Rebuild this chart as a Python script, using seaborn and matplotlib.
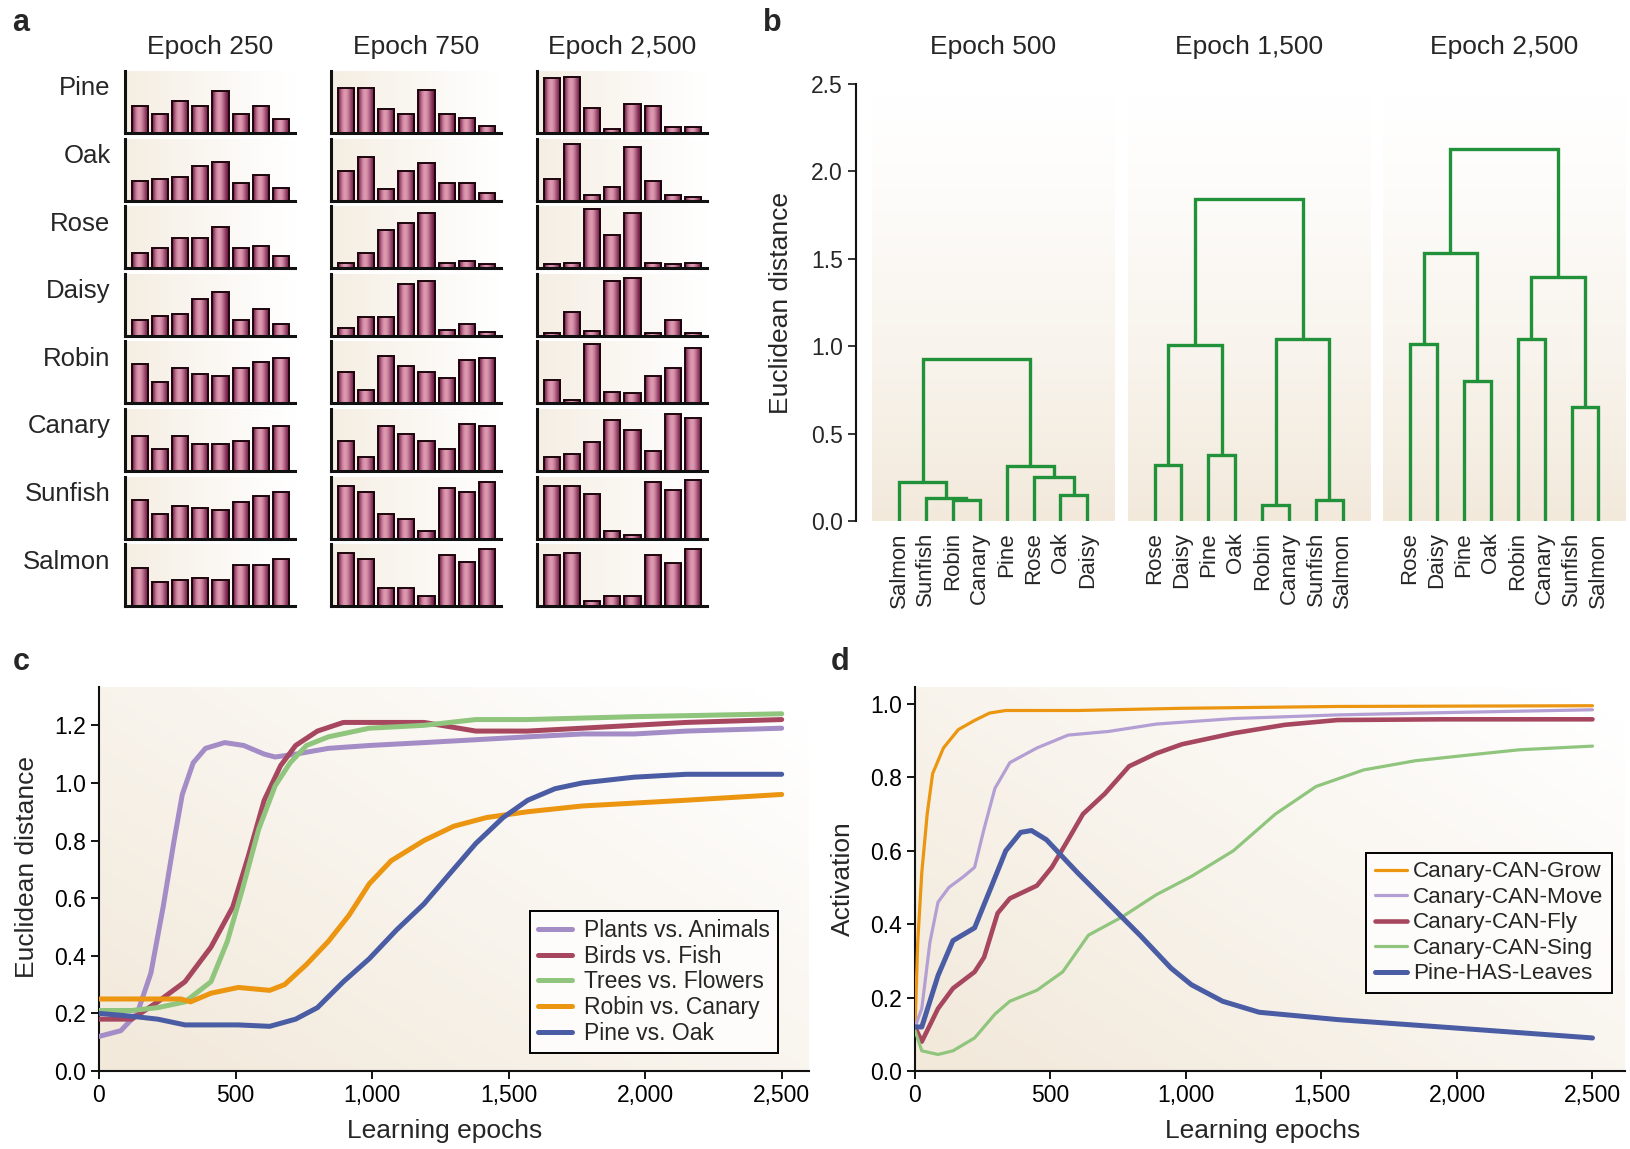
import matplotlib
matplotlib.use("Agg")
import matplotlib.pyplot as plt
import numpy as np
import seaborn as sns
from matplotlib.ticker import FuncFormatter

W, H = 1631, 1149

# ---- panel a: hidden-unit activation patterns ----
ITEMS = ["Pine", "Oak", "Rose", "Daisy", "Robin", "Canary", "Sunfish", "Salmon"]
BAR_TITLES = ["Epoch 250", "Epoch 750", "Epoch 2,500"]
UNITS = list(range(8))
ACT_250 = {
    "Pine": [0.44, 0.31, 0.51, 0.44, 0.67, 0.31, 0.44, 0.22],
    "Oak": [0.32, 0.35, 0.38, 0.55, 0.63, 0.29, 0.41, 0.21],
    "Rose": [0.25, 0.32, 0.48, 0.48, 0.67, 0.32, 0.35, 0.19],
    "Daisy": [0.25, 0.32, 0.35, 0.60, 0.70, 0.25, 0.44, 0.19],
    "Robin": [0.64, 0.35, 0.57, 0.48, 0.44, 0.57, 0.67, 0.73],
    "Canary": [0.56, 0.36, 0.56, 0.43, 0.43, 0.49, 0.69, 0.72],
    "Sunfish": [0.62, 0.39, 0.52, 0.49, 0.46, 0.59, 0.69, 0.75],
    "Salmon": [0.62, 0.39, 0.43, 0.46, 0.43, 0.66, 0.66, 0.76],
}
ACT_750 = {
    "Pine": [0.72, 0.72, 0.38, 0.31, 0.70, 0.31, 0.25, 0.12],
    "Oak": [0.48, 0.71, 0.19, 0.48, 0.61, 0.29, 0.29, 0.12],
    "Rose": [0.09, 0.25, 0.61, 0.73, 0.89, 0.09, 0.12, 0.06],
    "Daisy": [0.12, 0.31, 0.31, 0.83, 0.89, 0.09, 0.19, 0.06],
    "Robin": [0.51, 0.22, 0.76, 0.60, 0.51, 0.41, 0.70, 0.73],
    "Canary": [0.49, 0.23, 0.72, 0.59, 0.49, 0.36, 0.76, 0.72],
    "Sunfish": [0.85, 0.75, 0.39, 0.32, 0.13, 0.82, 0.75, 0.92],
    "Salmon": [0.86, 0.76, 0.29, 0.29, 0.16, 0.82, 0.72, 0.92],
}
ACT_2500 = {
    "Pine": [0.88, 0.91, 0.41, 0.06, 0.47, 0.44, 0.09, 0.09],
    "Oak": [0.35, 0.92, 0.09, 0.22, 0.86, 0.32, 0.09, 0.06],
    "Rose": [0.06, 0.09, 0.95, 0.54, 0.89, 0.09, 0.06, 0.09],
    "Daisy": [0.05, 0.39, 0.08, 0.89, 0.93, 0.05, 0.25, 0.05],
    "Robin": [0.38, 0.05, 0.96, 0.19, 0.16, 0.44, 0.57, 0.89],
    "Canary": [0.23, 0.27, 0.46, 0.82, 0.66, 0.33, 0.92, 0.85],
    "Sunfish": [0.85, 0.85, 0.72, 0.13, 0.06, 0.92, 0.79, 0.95],
    "Salmon": [0.82, 0.86, 0.09, 0.16, 0.16, 0.82, 0.69, 0.92],
}

# ---- panel b: dendrograms (merges: child a, child b, height; new node = 8 + index) ----
TREE_TITLES = ["Epoch 500", "Epoch 1,500", "Epoch 2,500"]
LEAVES_500 = ["Salmon", "Sunfish", "Robin", "Canary", "Pine", "Rose", "Oak", "Daisy"]
MERGES_500 = [(2, 3, 0.12), (1, 8, 0.13), (0, 9, 0.225), (6, 7, 0.15),
              (5, 11, 0.25), (4, 12, 0.315), (10, 13, 0.925)]
LEAVES_1500 = ["Rose", "Daisy", "Pine", "Oak", "Robin", "Canary", "Sunfish", "Salmon"]
MERGES_1500 = [(0, 1, 0.32), (2, 3, 0.375), (8, 9, 1.005), (4, 5, 0.09),
               (6, 7, 0.12), (11, 12, 1.04), (10, 13, 1.84)]
LEAVES_2500 = ["Rose", "Daisy", "Pine", "Oak", "Robin", "Canary", "Sunfish", "Salmon"]
MERGES_2500 = [(0, 1, 1.015), (2, 3, 0.80), (8, 9, 1.535), (4, 5, 1.04),
               (6, 7, 0.65), (11, 12, 1.395), (10, 13, 2.13)]

# ---- panel c: distances between representations ----
PLANTS_ANIMALS_X = [0, 80, 140, 190, 235, 275, 305, 345, 390, 460, 530, 605, 645, 720,
                    840, 990, 1190, 1380, 1570, 1770, 1960, 2150, 2500]
PLANTS_ANIMALS_Y = [0.12, 0.14, 0.20, 0.34, 0.57, 0.80, 0.96, 1.07, 1.12, 1.14, 1.13, 1.10,
                    1.09, 1.10, 1.12, 1.13, 1.14, 1.15, 1.16, 1.17, 1.17, 1.18, 1.19]
BIRDS_FISH_X = [0, 120, 215, 315, 410, 490, 545, 605, 665, 720, 800, 895, 1070, 1190,
                1380, 1570, 1770, 1960, 2150, 2500]
BIRDS_FISH_Y = [0.18, 0.18, 0.24, 0.31, 0.43, 0.57, 0.74, 0.94, 1.06, 1.13, 1.18, 1.21,
                1.21, 1.21, 1.18, 1.18, 1.19, 1.20, 1.21, 1.22]
TREES_FLOWERS_X = [0, 120, 215, 315, 410, 470, 525, 585, 645, 700, 760, 840, 990, 1190,
                   1380, 1570, 1960, 2500]
TREES_FLOWERS_Y = [0.21, 0.21, 0.22, 0.24, 0.31, 0.45, 0.63, 0.84, 0.99, 1.07, 1.13, 1.16,
                   1.19, 1.20, 1.22, 1.22, 1.23, 1.24]
ROBIN_CANARY_X = [0, 300, 335, 410, 510, 625, 680, 760, 840, 915, 990, 1070, 1190, 1300,
                  1420, 1570, 1770, 1960, 2150, 2500]
ROBIN_CANARY_Y = [0.25, 0.25, 0.24, 0.27, 0.29, 0.28, 0.30, 0.37, 0.45, 0.54, 0.65, 0.73,
                  0.80, 0.85, 0.88, 0.90, 0.92, 0.93, 0.94, 0.96]
PINE_OAK_X = [0, 120, 215, 315, 510, 625, 720, 800, 895, 990, 1090, 1190, 1280, 1380,
              1480, 1570, 1670, 1770, 1960, 2150, 2500]
PINE_OAK_Y = [0.20, 0.19, 0.18, 0.16, 0.16, 0.155, 0.18, 0.22, 0.31, 0.39, 0.49, 0.58,
              0.68, 0.79, 0.88, 0.94, 0.98, 1.00, 1.02, 1.03, 1.03]

# ---- panel d: output activations ----
GROW_X = [0, 10, 25, 45, 65, 105, 160, 220, 275, 335, 600, 985, 1560, 2500]
GROW_Y = [0.12, 0.35, 0.54, 0.70, 0.81, 0.88, 0.93, 0.955, 0.975, 0.982, 0.982, 0.988,
          0.993, 0.995]
MOVE_X = [0, 25, 55, 85, 125, 180, 220, 255, 295, 350, 450, 565, 715, 890, 1175, 1560,
          1940, 2500]
MOVE_Y = [0.12, 0.17, 0.35, 0.46, 0.50, 0.53, 0.555, 0.66, 0.77, 0.84, 0.88, 0.915, 0.925,
          0.945, 0.96, 0.97, 0.976, 0.984]
FLY_X = [0, 25, 85, 140, 220, 255, 305, 350, 450, 505, 565, 620, 700, 790, 890, 985, 1175,
         1365, 1560, 1940, 2500]
FLY_Y = [0.12, 0.08, 0.17, 0.225, 0.27, 0.31, 0.43, 0.47, 0.505, 0.555, 0.63, 0.70, 0.755,
         0.83, 0.865, 0.89, 0.92, 0.943, 0.956, 0.958, 0.958]
SING_X = [0, 25, 85, 140, 220, 295, 350, 450, 545, 640, 765, 890, 1020, 1175, 1330, 1480,
          1655, 1845, 2035, 2230, 2500]
SING_Y = [0.11, 0.055, 0.045, 0.055, 0.09, 0.155, 0.19, 0.22, 0.27, 0.37, 0.42, 0.48, 0.53,
          0.60, 0.70, 0.775, 0.82, 0.845, 0.86, 0.875, 0.885]
LEAVES_X = [0, 25, 85, 140, 220, 275, 335, 390, 430, 485, 600, 715, 830, 945, 1020, 1135,
            1270, 1560, 1940, 2500]
LEAVES_Y = [0.12, 0.12, 0.26, 0.355, 0.39, 0.49, 0.60, 0.65, 0.655, 0.63, 0.54, 0.455,
            0.37, 0.28, 0.235, 0.19, 0.16, 0.14, 0.12, 0.09]

PURPLE, MAROON, GREEN, ORANGE, BLUE = "#a48cc6", "#a6475f", "#8fc57c", "#eb9510", "#4a5ca3"
TREE_GREEN = "#22923a"
BEIGE = np.array([0.95, 0.915, 0.86])
WHITE = np.ones(3)
BAR_DARK = np.array([0.42, 0.08, 0.25])
BAR_LIGHT = np.array([0.87, 0.60, 0.69])


def wash(weight):
    return WHITE + (BEIGE - WHITE) * np.clip(weight, 0, 1)[..., None]


def add_axes_px(fig, left, top, right, bottom):
    return fig.add_axes([left / W, 1 - bottom / H, (right - left) / W, (bottom - top) / H])


sns.set_style("ticks")
plt.rcParams["font.family"] = ["Liberation Sans", "DejaVu Sans"]

fig = plt.figure(figsize=(W / 100, H / 100), dpi=100)

u = np.linspace(0, 1, 64)
cyl_w = np.sin(np.pi * u ** 0.8) ** 1.6
cylinder = (BAR_DARK + (BAR_LIGHT - BAR_DARK) * cyl_w[:, None])[None, :, :]
wash_h = wash(0.8 * np.linspace(1, 0, 200) ** 1.1)[None, :, :]
wash_v = wash(np.linspace(0, 1, 200) ** 1.3)[:, None, :]
gx, gy = np.meshgrid(np.linspace(0, 1, 200), np.linspace(1, 0, 200))
wash_d = wash(1.05 - 0.6 * gx - 0.5 * gy)

# ---- panel a ----
col_left = [125, 331, 537]
col_w = 170
row_top, row_step, row_h = 71, 67.6, 62
for c, (title, acts) in enumerate(zip(BAR_TITLES, [ACT_250, ACT_750, ACT_2500])):
    fig.text((col_left[c] + col_w / 2) / W, 1 - 47 / H, title, ha="center", va="center",
             fontsize=19)
    for r, item in enumerate(ITEMS):
        top = row_top + r * row_step
        ax = add_axes_px(fig, col_left[c], top, col_left[c] + col_w, top + row_h)
        ax.imshow(wash_h, extent=[0, 1, 0, 1], transform=ax.transAxes, aspect="auto", zorder=0)
        sns.barplot(x=UNITS, y=acts[item], ax=ax, color="#c98898", edgecolor="#1c050c",
                    linewidth=1.4, width=0.8, errorbar=None, zorder=2)
        for patch in ax.patches:
            x0, y0 = patch.get_x(), patch.get_y()
            im = ax.imshow(cylinder, extent=[x0, x0 + patch.get_width(), y0,
                                             y0 + patch.get_height()],
                           aspect="auto", zorder=1.5, interpolation="bilinear")
            im.set_clip_path(patch)
            patch.set_facecolor("none")
        ax.set_xlim(-0.74, 7.7)
        ax.set_ylim(0, 1)
        ax.set_xticks([])
        ax.set_yticks([])
        ax.set_xlabel("")
        ax.set_ylabel("")
        sns.despine(ax=ax)
        for side in ["left", "bottom"]:
            ax.spines[side].set_linewidth(2.2)
            ax.spines[side].set_color("#111111")
        if c == 0:
            ax.text(-0.085, 0.72, item, transform=ax.transAxes, ha="right", va="center",
                    fontsize=18.5)

# ---- panel b ----
axb = add_axes_px(fig, 856, 84, 1628, 521)
tick_pos, tick_lab = [], []
for k, (title, leaves, merges) in enumerate(zip(
        TREE_TITLES, [LEAVES_500, LEAVES_1500, LEAVES_2500],
        [MERGES_500, MERGES_1500, MERGES_2500])):
    off = k * 9.5
    axb.imshow(wash_v, extent=[off - 1, off + 8, 0, 2.44], aspect="auto", zorder=0)
    pos = {i: off + i for i in range(len(leaves))}
    hgt = {i: 0.0 for i in range(len(leaves))}
    for j, (a, b, h) in enumerate(merges):
        axb.plot([pos[a], pos[a], pos[b], pos[b]], [hgt[a], h, h, hgt[b]],
                 color=TREE_GREEN, lw=2.4, solid_joinstyle="miter", zorder=2)
        pos[len(leaves) + j] = (pos[a] + pos[b]) / 2
        hgt[len(leaves) + j] = h
    tick_pos += [off + i for i in range(len(leaves))]
    tick_lab += leaves
    axb.text(off + 3.5, 1.085, title, transform=axb.get_xaxis_transform(), ha="center",
             va="center", fontsize=19)
axb.set_xlim(-1.6, 27.1)
axb.set_ylim(0, 2.5)
axb.set_xticks(tick_pos)
axb.set_xticklabels(tick_lab, rotation=90, fontsize=16)
axb.set_yticks(np.arange(0, 2.51, 0.5))
axb.yaxis.set_major_formatter(FuncFormatter(lambda v, _: f"{v:.1f}"))
axb.tick_params(axis="x", length=0, pad=8)
axb.tick_params(axis="y", direction="out", length=6, width=1.3, labelsize=16.5)
for side in ["top", "right", "bottom"]:
    axb.spines[side].set_visible(False)
axb.spines["left"].set_linewidth(1.5)
axb.spines["left"].set_color("#111111")
axb.set_ylabel("Euclidean distance", fontsize=19)
axb.yaxis.set_label_coords(-0.082, 0.5)

# ---- panels c and d ----
epoch_fmt = FuncFormatter(lambda v, _: f"{int(v):,}")


def style_curve_axes(ax, ylim, yticks, ylabel):
    ax.imshow(wash_d, extent=[0, 1, 0, 1], transform=ax.transAxes, aspect="auto", zorder=0)
    ax.set_xlim(0, 2600 if ylim[1] > 1.2 else 2620)
    ax.set_ylim(*ylim)
    ax.set_xticks(np.arange(0, 2501, 500))
    ax.set_yticks(yticks)
    ax.xaxis.set_major_formatter(epoch_fmt)
    ax.yaxis.set_major_formatter(FuncFormatter(lambda v, _: f"{v:.1f}"))
    ax.tick_params(direction="out", length=6, width=1.3, labelsize=16.5, colors="black")
    sns.despine(ax=ax)
    for side in ["left", "bottom"]:
        ax.spines[side].set_linewidth(1.5)
        ax.spines[side].set_color("#111111")
    ax.set_xlabel("Learning epochs", fontsize=19)
    ax.xaxis.set_label_coords(0.487, -0.125)
    ax.set_ylabel(ylabel, fontsize=19)
    ax.yaxis.set_label_coords(-0.084, 0.53)


axc = add_axes_px(fig, 99, 687, 809, 1071)
for label, xs, ys, color in [
    ("Plants vs. Animals", PLANTS_ANIMALS_X, PLANTS_ANIMALS_Y, PURPLE),
    ("Birds vs. Fish", BIRDS_FISH_X, BIRDS_FISH_Y, MAROON),
    ("Trees vs. Flowers", TREES_FLOWERS_X, TREES_FLOWERS_Y, GREEN),
    ("Robin vs. Canary", ROBIN_CANARY_X, ROBIN_CANARY_Y, ORANGE),
    ("Pine vs. Oak", PINE_OAK_X, PINE_OAK_Y, BLUE),
]:
    sns.lineplot(x=xs, y=ys, ax=axc, color=color, linewidth=3.6, label=label, zorder=3,
                 solid_capstyle="round")
style_curve_axes(axc, (0, 1.333), np.arange(0, 1.21, 0.2), "Euclidean distance")
leg = axc.legend(loc="lower right", bbox_to_anchor=(0.956, 0.047), borderaxespad=0,
                 fontsize=16.5, frameon=True, fancybox=False, framealpha=1,
                 facecolor="#fdfcfa", edgecolor="black", handlelength=1.5,
                 handletextpad=0.5, labelspacing=0.12, borderpad=0.35)
leg.get_frame().set_linewidth(1.4)

axd = add_axes_px(fig, 915, 687, 1625, 1071)
for label, xs, ys, color, lw in [
    ("Canary-CAN-Grow", GROW_X, GROW_Y, ORANGE, 2.3),
    ("Canary-CAN-Move", MOVE_X, MOVE_Y, "#b39fd3", 2.3),
    ("Canary-CAN-Fly", FLY_X, FLY_Y, MAROON, 3.3),
    ("Canary-CAN-Sing", SING_X, SING_Y, GREEN, 2.3),
    ("Pine-HAS-Leaves", LEAVES_X, LEAVES_Y, BLUE, 3.6),
]:
    sns.lineplot(x=xs, y=ys, ax=axd, color=color, linewidth=lw, label=label, zorder=3)
style_curve_axes(axd, (0, 1.046), np.arange(0, 1.01, 0.2), "Activation")
axd.yaxis.set_label_coords(-0.085, 0.5)
axd.xaxis.set_label_coords(0.489, -0.125)
leg = axd.legend(loc="lower right", bbox_to_anchor=(0.982, 0.203), borderaxespad=0,
                 fontsize=16.2, frameon=True, fancybox=False, framealpha=1,
                 facecolor="#fdfcfa", edgecolor="black", handlelength=1.4,
                 handletextpad=0.3, labelspacing=0.2, borderpad=0.38)
leg.get_frame().set_linewidth(1.4)

# panel letters
for letter, x, y in [("a", 21, 23), ("b", 772, 23), ("c", 21, 662), ("d", 840, 662)]:
    fig.text(x / W, 1 - y / H, letter, fontsize=22, fontweight="bold", ha="center",
             va="center")

fig.savefig("out.png", dpi=100)
